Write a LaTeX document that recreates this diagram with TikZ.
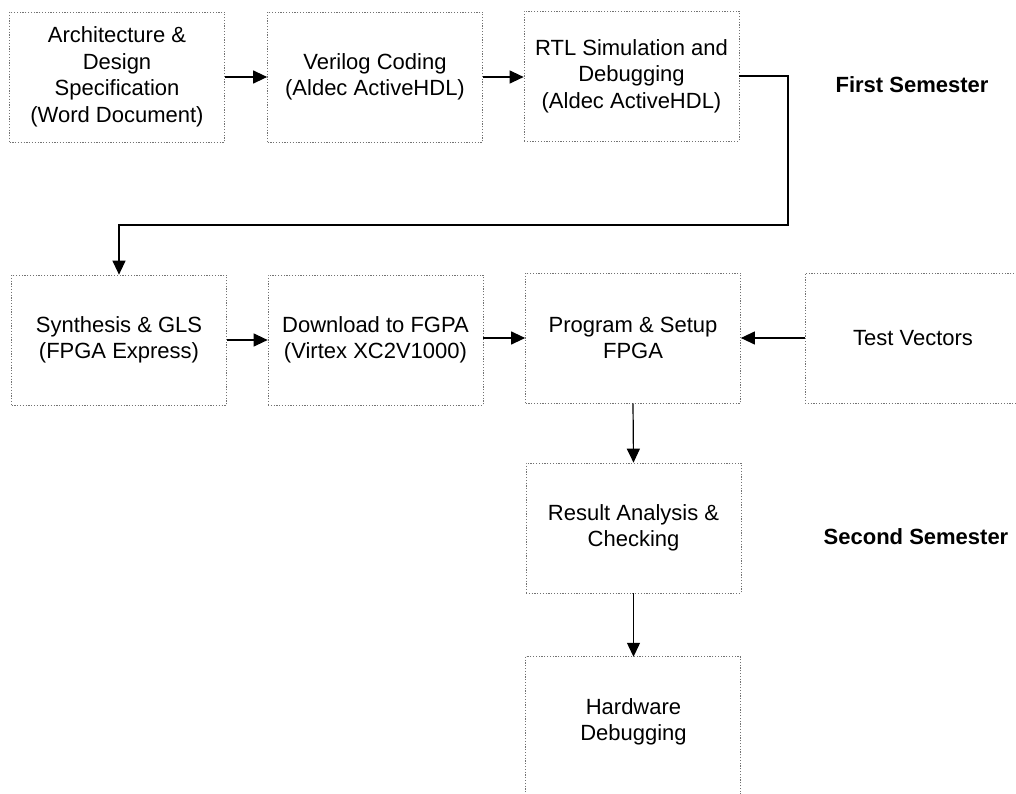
\documentclass[tikz,border=0pt]{standalone}
\usepackage{fontspec}
\setmainfont{Liberation Sans}
\usetikzlibrary{arrows.meta}
\begin{document}
\begin{tikzpicture}[x=1pt,y=-1pt,
  boxline/.style={draw=black!55, dash pattern=on 1.2pt off 1.6pt, line width=0.7pt},
  box/.style={boxline, minimum width=215pt, minimum height=130pt, align=center,
    font=\fontsize{22}{26.5}\selectfont, inner sep=0pt},
  plain/.style={minimum width=215pt, minimum height=130pt, align=center,
    font=\fontsize{22}{26.5}\selectfont, inner sep=0pt},
  conn/.style={draw=black, line width=1.2pt, -{Triangle[length=14pt,width=13pt]}},
  sem/.style={font=\fontsize{22}{26}\selectfont\bfseries, inner sep=0pt}]
\useasboundingbox (0,0) rectangle (1016,794);
\clip (0,0) rectangle (1016,794);

% first row
\node[box] (arch) at (117,77) {Architecture \&\\Design\\Specification\\(Word Document)};
\node[box] (ver)  at (375,77) {Verilog Coding\\(Aldec ActiveHDL)};
\node[box] (rtl)  at (631.5,76) {RTL Simulation and\\Debugging\\(Aldec ActiveHDL)};

% second row
\node[box] (syn)  at (119,340) {Synthesis \& GLS\\(FPGA Express)};
\node[box] (dl)   at (375.5,340) {Download to FGPA\\(Virtex XC2V1000)};
\node[box] (prog) at (633,338) {Program \& Setup\\FPGA};
\node[box, minimum width=216pt] (tv) at (913,338) {Test Vectors};

% column
\node[box] (res)  at (633.5,528) {Result Analysis \&\\Checking};
\node[plain] (hw) at (633.5,722) {Hardware\\Debugging};
\draw[boxline] (hw.north west) rectangle ++(215,170);

% semester labels
\node[sem] (s1) at (912,85) {First Semester};
\node[sem] (s2) at (916,537) {Second Semester};

% connectors
\coordinate (bend) at (788,225);
\draw[conn] (arch.east) -- (ver.west);
\draw[conn] (ver.east) -- (rtl.west |- ver.east);
\draw[conn] (rtl.east) -| (bend) -| (syn.north);
\draw[conn] (syn.east) -- (dl.west);
\draw[conn] (dl.east |- prog.west) -- (prog.west);
\draw[conn] (tv.west) -- (prog.east);
\draw[conn] (prog.south) -- (res.north);
\draw[conn] (res.south) -- (hw.north);
\end{tikzpicture}
\end{document}
